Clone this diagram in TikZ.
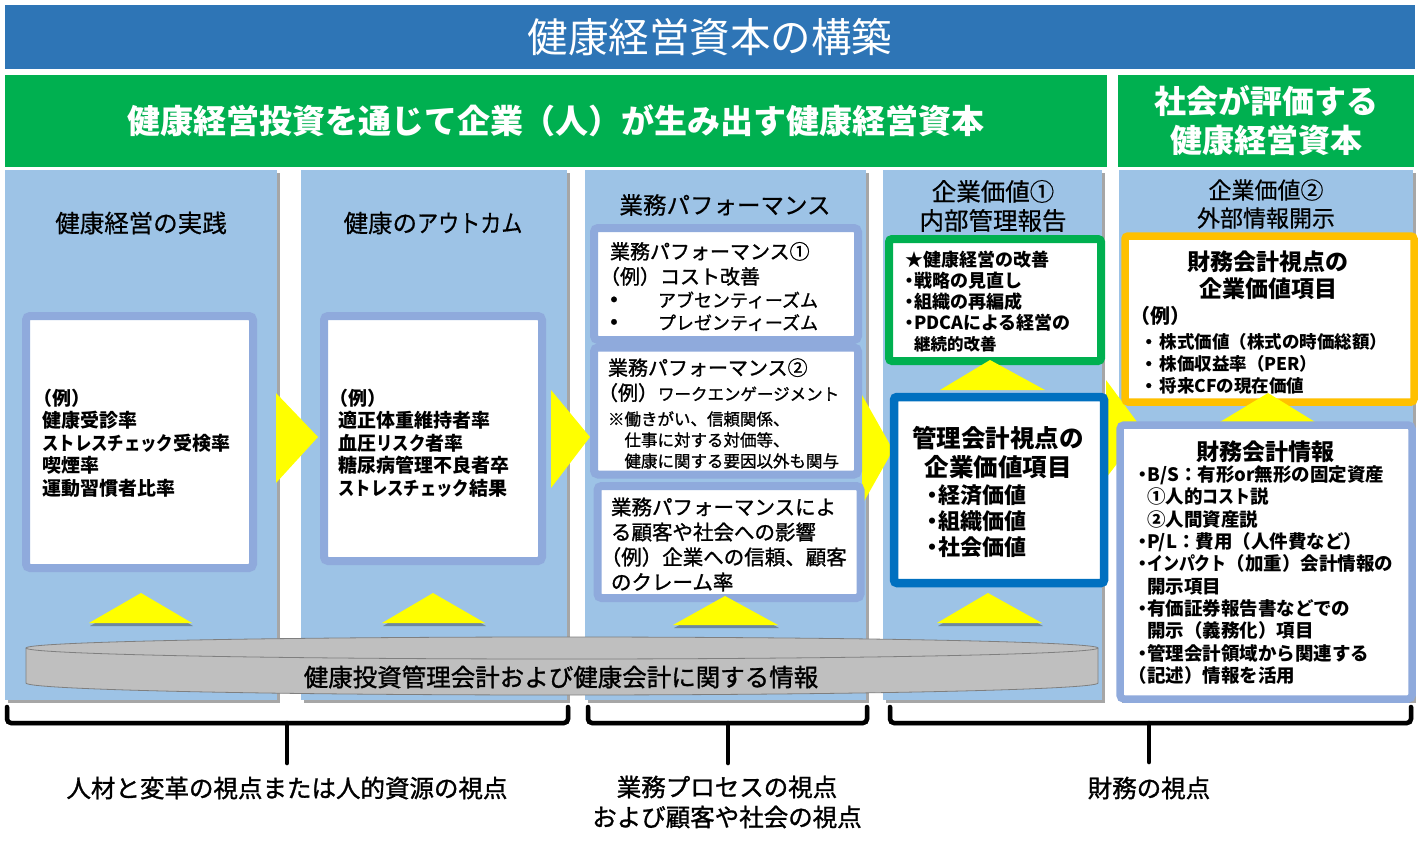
\documentclass[tikz,border=0pt]{standalone}
\usepackage{fontspec}
\setmainfont{Noto Sans CJK JP}
\newfontfamily\kn{Noto Sans CJK JP}[FakeStretch=0.86]
\newfontfamily\md{Noto Sans CJK JP}[FakeBold=1.2]
\newfontfamily\mdkn{Noto Sans CJK JP}[FakeBold=1.2,FakeStretch=0.86]
\newfontfamily\sm{Noto Sans CJK JP}[FakeBold=0.5]
\newfontfamily\smkn{Noto Sans CJK JP}[FakeBold=0.5,FakeStretch=0.86]
\usetikzlibrary{shadows}
\definecolor{tblue}{HTML}{2E75B6}
\definecolor{tgreen}{HTML}{00B050}
\definecolor{cblue}{HTML}{9DC3E6}
\definecolor{pframe}{HTML}{8FAADC}
\definecolor{dblue}{HTML}{0070C0}
\definecolor{orng}{HTML}{FFC000}
\definecolor{ylw}{HTML}{FFFF00}
\definecolor{dgray}{HTML}{BFBFBF}
\definecolor{dline}{HTML}{7F7F7F}
\newcommand\fsz[2]{\fontsize{#1pt}{#2pt}\selectfont}
\newcommand\dt{\makebox[0.5em][c]{・}}
\newcommand\lpar{\hspace*{-0.5em}（}
\newcommand\bul{\makebox[48pt][l]{\hspace*{-6pt}{\bfseries\fsz{20}{20}・}}}
\tikzset{
  band/.style={rectangle, inner sep=0pt, outer sep=0pt, text=white, align=center},
  colbg/.style={rectangle, fill=cblue, inner sep=0pt, outer sep=0pt,
    drop shadow={shadow xshift=3pt, shadow yshift=-3pt, opacity=0.35, fill=black}},
  frm/.style={rectangle, draw=pframe, fill=white, line width=8pt, rounded corners=4pt, inner sep=0pt},
  gfrm/.style={rectangle, draw=tgreen, fill=white, line width=8pt, rounded corners=3pt, inner sep=0pt},
  bfrm/.style={rectangle, draw=dblue, fill=white, line width=8.5pt, rounded corners=3pt, inner sep=0pt},
  ofrm/.style={rectangle, draw=orng, fill=white, line width=7.5pt, rounded corners=3pt, inner sep=0pt},
  txt/.style={inner sep=0pt, outer sep=0pt, align=left, anchor=west, text=black},
  ctr/.style={inner sep=0pt, outer sep=0pt, align=center, text=black},
  tri/.style={fill=ylw, drop shadow={shadow xshift=1pt, shadow yshift=-3pt, opacity=0.3, fill=black}},
  arr/.style={fill=ylw},
  brk/.style={line width=4.5pt, black, rounded corners=4pt, line cap=round},
  brks/.style={line width=4.5pt, black!35, rounded corners=4pt, line cap=round},
}
\begin{document}
\begin{tikzpicture}[x=1pt,y=-1pt]
\useasboundingbox (0,0) rectangle (1425,846);

% title bar
\node[band, fill=tblue, minimum width=1410pt, minimum height=64pt, font=\fsz{40.5}{44}] (title) at (710,37) {健康経営資本の構築};
% green bands
\node[band, fill=tgreen, minimum width=1102pt, minimum height=92pt, font=\bfseries\fsz{33}{36}] (gl) at (556,121) {健康経営投資を通じて企業（人）が生み出す健康経営資本};
\node[band, fill=tgreen, minimum width=296pt, minimum height=92pt, font=\bfseries\fsz{32}{39}] (gr) at (1266,121) {社会が評価する\\健康経営資本};

% columns
\node[colbg, minimum width=272pt, minimum height=530pt] (c1) at (141,435) {};
\node[colbg, minimum width=266pt, minimum height=530pt] (c2) at (434,435) {};
\node[colbg, minimum width=281pt, minimum height=530pt] (c3) at (725.5,435) {};
\node[colbg, minimum width=219pt, minimum height=530pt] (c4) at (992.5,435) {};
\node[colbg, minimum width=294pt, minimum height=530pt] (c5) at (1266,435) {};

% headers
\node[ctr, font=\sm\fsz{24.5}{29}] (h1) at (141,223) {健康経営の実践};
\node[ctr, font=\sm\fsz{24.5}{29}] (h2) at (433,223) {健康の{\smkn アウトカム}};
\node[ctr, font=\sm\fsz{23.5}{29}] (h3) at (725,205) {業務パフォーマンス};
\node[ctr, font=\sm\fsz{24.5}{29}] (h4) at (993,206) {企業価値①\\内部管理報告};
\node[ctr, font=\sm\fsz{23}{28}] (h5) at (1266,204) {企業価値②\\外部情報開示};

% right arrows
\fill[arr] (276,393) -- (318,437) -- (276,483) -- cycle;
\fill[arr] (551,390) -- (590,437) -- (551,488) -- cycle;
\fill[arr] (862,395) -- (893,450) -- (862,505) -- cycle;
\fill[arr] (1106,380) -- (1143,430) -- (1106,478) -- cycle;

% column 1 box
\node[frm, minimum width=227pt, minimum height=252pt] (b1) at (139.5,442) {};
\node[txt, font=\bfseries\fsz{19}{22.6}] (b1t) at (42.5,443) {\lpar 例）\\健康受診率\\{\kn ストレスチェック}受検率\\喫煙率\\運動習慣者比率};

% column 2 box
\node[frm, minimum width=218pt, minimum height=245pt] (b2) at (433,438.5) {};
\node[txt, font=\bfseries\fsz{19}{22.6}] (b2t) at (338.5,443) {\lpar 例）\\適正体重維持者率\\血圧{\kn リスク}者率\\糖尿病管理不良者卒\\{\kn ストレスチェック}結果};

% column 3 boxes
\node[frm, minimum width=264pt, minimum height=112pt] (b31) at (726,284) {};
\node[frm, minimum width=264pt, minimum height=127pt] (b32) at (726,411) {};
\node[frm, minimum width=263pt, minimum height=112pt] (b33) at (729,542) {};
\node[txt, font=\md\fsz{18}{22.5}] (b31t) at (610,286.5) {{\fsz{20}{24}業務パフォーマンス①}\\[2.5pt]{\fsz{20}{24}\lpar 例）コスト改善}\\[0.5pt]\bul アブセンティーズム\\\bul プレゼンティーズム};
\node[txt, font=\md\fsz{16.5}{21}] (b32t) at (608,413.5) {{\fsz{20}{24}業務パフォーマンス②}\\[4pt]{\fsz{20}{24}\lpar 例）}ワークエンゲージメント\\[4pt]※働きがい、信頼関係、\\\hspace*{1em}仕事に対する対価等、\\\hspace*{1em}健康に関する要因以外も関与};
\node[txt, font=\md\fsz{20.5}{25}] (b33t) at (611,544.5) {業務パフォーマンスによ\\る顧客や社会への影響\\\lpar 例）企業への信頼、顧客\\のクレーム率};

% column 4 boxes
\node[gfrm, minimum width=212pt, minimum height=122pt] (g4) at (995,300) {};
\node[txt, font=\bfseries\fsz{18}{21}] (g4t) at (905,302) {★健康経営の改善\\\dt 戦略の見直し\\\dt 組織の再編成\\\dt PDCAによる経営の\\\hspace*{0.5em}{\fsz{16.5}{21}継続的改善}};
\fill[arr] (940,390) -- (990,360) -- (1045,390) -- cycle;
\node[bfrm, minimum width=210pt, minimum height=186pt] (m4) at (999,490) {};
\node[ctr, font=\bfseries\fsz{24.5}{29}] (m4a) at (998,452.5) {管理会計視点の\\企業価値項目};
\node[txt, font=\bfseries\fsz{22}{26}] (m4b) at (927,521) {\dt 経済価値\\\dt 組織価値\\\dt 社会価値};

% column 5 boxes
\node[ofrm, minimum width=289pt, minimum height=166pt] (o5) at (1269.5,319) {};
\node[ctr, font=\bfseries\fsz{23}{27}] (o5a) at (1268,275.5) {財務会計視点の\\企業価値項目};
\node[txt, font=\bfseries\fsz{17.5}{22}] (o5b) at (1140,350) {{\fsz{20}{24}\lpar 例）}\\[3pt]{\md ・}\hspace{2pt}株式価値（株式の時価総額）\\{\md ・}\hspace{2pt}株価収益率（PER）\\{\md ・}\hspace{2pt}将来CFの現在価値};
\fill[arr] (1215,425) -- (1268,393) -- (1320,425) -- cycle;
\node[frm, line width=7.5pt, minimum width=292pt, minimum height=274pt,
  drop shadow={shadow xshift=2pt, shadow yshift=-3pt, opacity=0.3, fill=black}] (f5) at (1266,562) {};
\node[ctr, font=\bfseries\fsz{23}{27}] (f5a) at (1265,452) {財務会計情報};
\node[txt, font=\bfseries\fsz{18.5}{22.3}] (f5b) at (1138,575) {\dt B/S：有形or無形の固定資産\\\hspace*{0.5em}①人的{\kn コスト}説\\\hspace*{0.5em}②人間資産説\\\dt P/L：費用（人件費など）\\\dt {\kn インパクト}（加重）会計情報の\\\hspace*{0.5em}開示項目\\\dt 有価証券報告書などでの\\\hspace*{0.5em}開示（義務化）項目\\\dt 管理会計領域から関連する\\\lpar 記述）情報を活用};

% up triangles
\fill[tri] (89,623) -- (141,593) -- (192,623) -- cycle;
\fill[tri] (382,623) -- (433,593) -- (485,623) -- cycle;
\fill[tri] (673,625) -- (725,596) -- (778,625) -- cycle;
\fill[tri] (937,623) -- (988,593) -- (1042,623) -- cycle;

% gray disk
\filldraw[fill=dgray, draw=dline, line width=0.8pt] (26,648) -- (26,683)
  arc[start angle=180, end angle=360, x radius=536pt, y radius=12pt] -- (1098,648)
  arc[start angle=0, end angle=180, x radius=536pt, y radius=11pt] -- cycle;
\draw[dline, line width=0.8pt] (26,648) arc[start angle=180, end angle=360, x radius=536pt, y radius=11pt];
\node[ctr, font=\md\fsz{24.5}{29}] (disk) at (561,677) {健康投資管理会計および健康会計に関する情報};

% brackets
\coordinate (k1a) at (7,707); \coordinate (k1b) at (568,707); \coordinate (k1m) at (287,723); \coordinate (k1s) at (287,763);
\coordinate (k2a) at (588,707); \coordinate (k2b) at (867,707); \coordinate (k2m) at (728,723); \coordinate (k2s) at (728,763);
\coordinate (k3a) at (890,707); \coordinate (k3b) at (1411,707); \coordinate (k3m) at (1149,723); \coordinate (k3s) at (1149,762);
\begin{scope}[xshift=2pt, yshift=-2.5pt]
\draw[brks] (k1a) |- (k1m) -| (k1b); \draw[brks] (k1m) -- (k1s);
\draw[brks] (k2a) |- (k2m) -| (k2b); \draw[brks] (k2m) -- (k2s);
\draw[brks] (k3a) |- (k3m) -| (k3b); \draw[brks] (k3m) -- (k3s);
\end{scope}
\draw[brk] (k1a) |- (k1m) -| (k1b); \draw[brk] (k1m) -- (k1s);
\draw[brk] (k2a) |- (k2m) -| (k2b); \draw[brk] (k2m) -- (k2s);
\draw[brk] (k3a) |- (k3m) -| (k3b); \draw[brk] (k3m) -- (k3s);

% bottom labels
\node[ctr, font=\md\fsz{24.5}{30}] (l1) at (287,788) {人材と変革の視点または人的資源の視点};
\node[ctr, font=\md\fsz{24.5}{30}] (l2) at (727,802) {業務プロセスの視点\\および顧客や社会の視点};
\node[ctr, font=\md\fsz{24.5}{30}] (l3) at (1149,788) {財務の視点};
\end{tikzpicture}
\end{document}
